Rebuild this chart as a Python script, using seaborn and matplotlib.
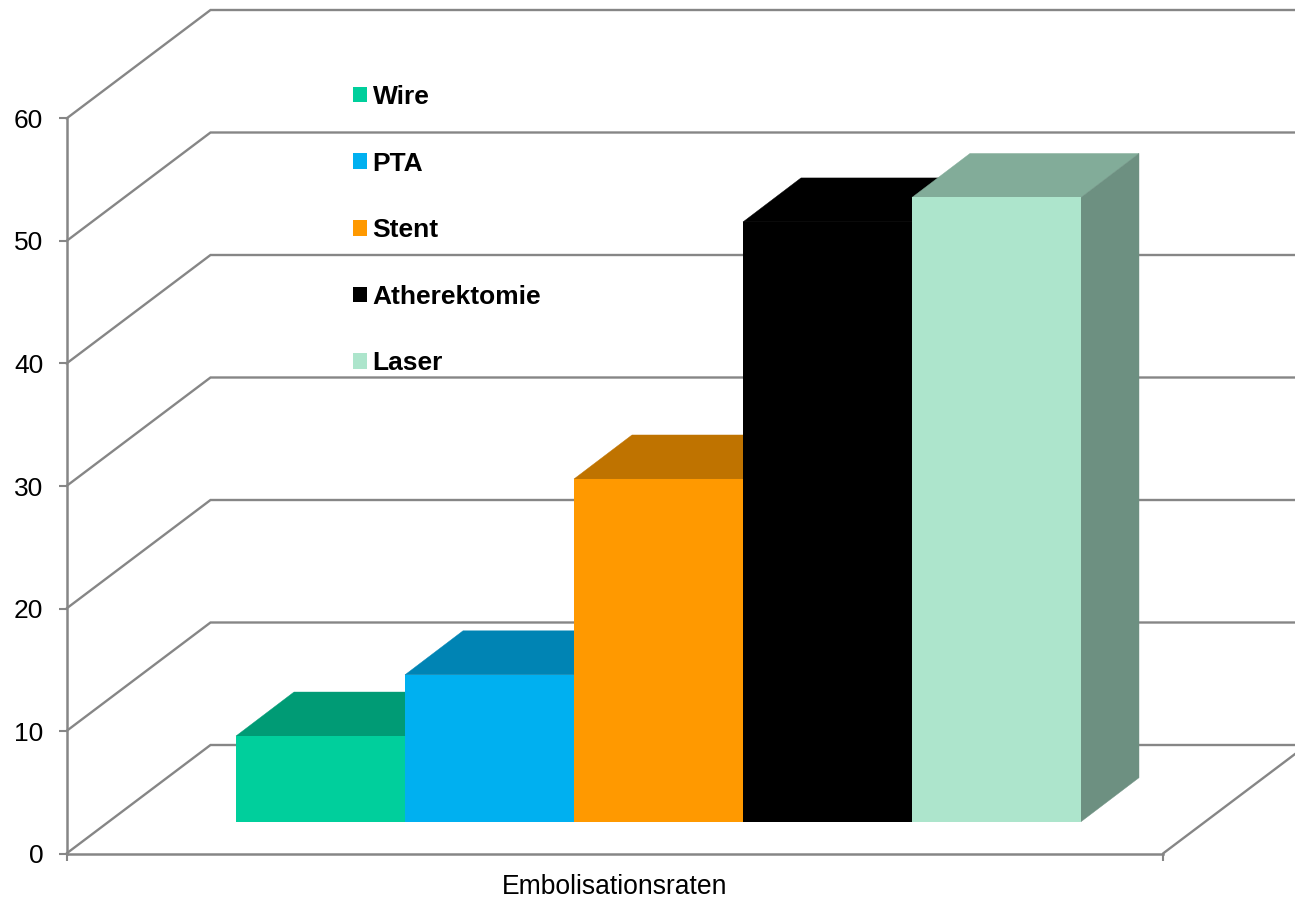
import matplotlib
matplotlib.use("Agg")
import matplotlib.pyplot as plt
import matplotlib.colors as mcolors
from matplotlib.patches import Polygon
import pandas as pd
import seaborn as sns

# Embolisation rates per treatment
treatments = ["Wire", "PTA", "Stent", "Atherektomie", "Laser"]
rates = [7, 12, 28, 49, 51]
bar_colors = ["#00CF9C", "#00B0F0", "#FF9900", "#000000", "#ADE5CC"]
category = "Embolisationsraten"
y_ticks = [0, 10, 20, 30, 40, 50, 60]

W, H = 1295, 897
GREY = "#868686"
TOP_SHADE, SIDE_SHADE = 0.75, 0.63

sns.set_theme(style="white")
plt.rcParams["font.family"] = ["Liberation Sans", "DejaVu Sans"]
plt.rcParams["font.size"] = 19
plt.rcParams["text.color"] = "black"


def px_axes(fig, left, right, bottom, top):
    """Axes placed by pixel edges, measured from the top of the figure."""
    return fig.add_axes([left / W, 1 - bottom / H, (right - left) / W, (bottom - top) / H])


def shaded(color, factor):
    r, g, b = mcolors.to_rgb(color)
    return (r * factor, g * factor, b * factor)


fig = plt.figure(figsize=(W / 100, H / 100), dpi=100, facecolor="white")

# Front plane: value axis, floor edge and tick marks
PLANE_L, PLANE_R, PLANE_B, PLANE_T = 66.5, 1163, 853.5, 118.5
ax = px_axes(fig, PLANE_L, PLANE_R, PLANE_B, PLANE_T)
ax.set_xlim(0, 1)
ax.set_ylim(0, 60)
ax.set_facecolor("none")
for side in ("top", "right"):
    ax.spines[side].set_visible(False)
for side in ("left", "bottom"):
    ax.spines[side].set_color(GREY)
    ax.spines[side].set_linewidth(1.8)
ax.set_yticks(y_ticks)
ax.set_xticks([0, 1])
ax.set_xticklabels([])
ax.tick_params(axis="y", left=True, length=5.8, width=1.5, color=GREY, pad=11,
               labelsize=19, labelcolor="black")
ax.tick_params(axis="x", bottom=True, length=5, width=1.5, color=GREY)
ax.set_xlabel(category, fontsize=19.1, color="black", labelpad=6)

# Back wall: each gridline runs diagonally into depth, then across to the right
units_x = 1 / (PLANE_R - PLANE_L)
units_y = 60 / (PLANE_B - PLANE_T)
wall_dx = 144 * units_x
wall_dy = 108.5 * units_y
for tick in y_ticks:
    ax.plot([0, wall_dx, 1 + wall_dx], [tick, tick + wall_dy, tick + wall_dy],
            color=GREY, lw=1.7, clip_on=False, zorder=1, solid_joinstyle="miter")
ax.plot([1, 1 + wall_dx], [0, wall_dy], color=GREY, lw=1.7, clip_on=False, zorder=1)

# Bars stand on the floor, set back from the front plane
BAR_L, BAR_R, BAR_B = 236, 1081, 821.7
PX_PER_UNIT = 12.24
ax_bar = px_axes(fig, BAR_L, BAR_R, BAR_B, 0)
data = pd.DataFrame({"category": category, "treatment": treatments, "rate": rates})
sns.barplot(data=data, x="category", y="rate", hue="treatment", hue_order=treatments,
            palette=bar_colors, width=1, saturation=1, gap=0, errorbar=None, ax=ax_bar)
ax_bar.set_xlim(-0.5, 0.5)
ax_bar.set_ylim(0, BAR_B / PX_PER_UNIT)
ax_bar.set_axis_off()
ax_bar.patch.set_alpha(0)

# Top and side faces for the extruded look
depth_x = 58 / (BAR_R - BAR_L)
depth_y = 44 / PX_PER_UNIT
bars = [p for p in ax_bar.patches if p.get_height() > 0]
for i, (bar, color) in enumerate(zip(bars, bar_colors)):
    x0, x1, h = bar.get_x(), bar.get_x() + bar.get_width(), bar.get_height()
    bar.set_linewidth(0)
    bar.set_zorder(2 * i + 3)
    top_color = shaded(color, TOP_SHADE)
    side_color = shaded(color, SIDE_SHADE)
    ax_bar.add_patch(Polygon(
        [(x0, h), (x1, h), (x1 + depth_x, h + depth_y), (x0 + depth_x, h + depth_y)],
        closed=True, facecolor=top_color, edgecolor=top_color, linewidth=0.3,
        zorder=2 * i + 2, clip_on=False))
    ax_bar.add_patch(Polygon(
        [(x1, 0), (x1 + depth_x, depth_y), (x1 + depth_x, h + depth_y), (x1, h)],
        closed=True, facecolor=side_color, edgecolor=side_color, linewidth=0.3,
        zorder=2 * i + 2, clip_on=False))

# Legend sits over the back wall, without a frame
handles, labels = ax_bar.get_legend_handles_labels()
legend = ax_bar.legend(
    handles, labels, loc="upper left", bbox_to_anchor=(353 / W, 1 - 85 / H),
    bbox_transform=fig.transFigure, frameon=False, borderaxespad=0, borderpad=0,
    handlelength=14 / 26.4, handleheight=14 / 26.4, handletextpad=0.21,
    labelspacing=1.615, prop={"family": "Liberation Sans", "weight": "bold", "size": 19})
for patch in legend.get_patches():
    patch.set_linewidth(0)
for text in legend.get_texts():
    text.set_color("black")

fig.savefig("out.png", dpi=100, facecolor="white")
